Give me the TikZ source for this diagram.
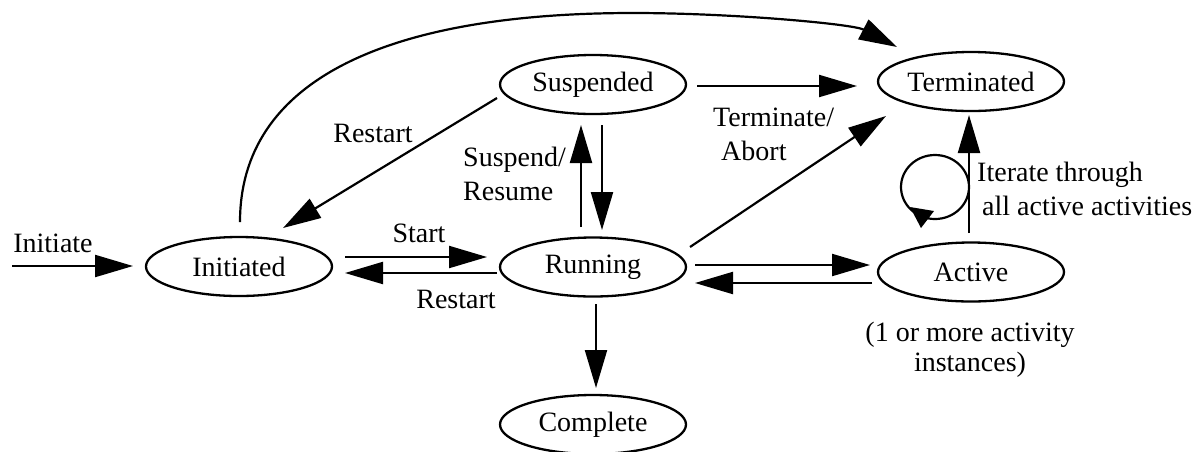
\documentclass[tikz,border=0pt]{standalone}
\usepackage{fontspec}
\setmainfont{Liberation Serif}
\usetikzlibrary{arrows.meta,shapes.geometric}
\begin{document}
\begin{tikzpicture}[x=1pt,y=-1pt,
  every node/.style={font=\fontsize{28}{34}\selectfont, inner sep=0pt},
  state/.style={ellipse, draw, line width=2.3pt, minimum width=186pt, minimum height=59pt},
  lbl/.style={anchor=base},
  arr/.style={line width=2.2pt, -{Triangle[length=38pt,width=22pt]}},
  plain/.style={line width=2.2pt},
  ]
\useasboundingbox (0,0) rectangle (1201,451);
% states
\node[state] (ini) at (239,266.5) {Initiated};
\node[state] (run) at (593,267) {Running};
\node[state] (sus) at (593,84.5) {Suspended};
\node[state] (com) at (593,424.5) {Complete};
\node[state] (ter) at (971,81.5) {Terminated};
\node[state] (act) at (971,272) {Active};
% free ends
\coordinate (initsrc) at (12,266);
\coordinate (apex) at (633,13);
\coordinate (loopc) at (935,187);
% connectors
\draw[arr] (initsrc) -- ([shift={(-106,-0.5)}]ini.center);
\draw[arr] ([shift={(106,-9.5)}]ini.center) -- ([shift={(-106,-10)}]run.center);
\draw[arr] ([shift={(-96,6)}]run.center) -- ([shift={(106,6.5)}]ini.center);
\draw[arr] ([shift={(-96,13.5)}]sus.center) -- ([shift={(44,-38.5)}]ini.center);
\draw[arr] ([shift={(-12,-40)}]run.center) -- ([shift={(-12,40.5)}]sus.center);
\draw[arr] ([shift={(9,40.5)}]sus.center) -- ([shift={(9,-37)}]run.center);
\draw[arr] ([shift={(3,37)}]run.center) -- ([shift={(3,-36.5)}]com.center);
\draw[arr] ([shift={(104,1.5)}]sus.center) -- ([shift={(-114,4.5)}]ter.center);
\draw[arr] ([shift={(97,-20)}]run.center) -- ([shift={(-85,34.5)}]ter.center);
\draw[arr] ([shift={(102,-2)}]run.center) -- ([shift={(-101,-7)}]act.center);
\draw[arr] ([shift={(-99,11)}]act.center) -- ([shift={(102,16)}]run.center);
\draw[arr] ([shift={(-2,-39)}]act.center) -- ([shift={(-2,33.5)}]ter.center);
\draw[arr] ([shift={(1,-44.5)}]ini.center) .. controls +(0,-140) and +(-250,0) .. (apex)
  .. controls +(100,0) and +(-44,-23) .. ([shift={(-74,-34.5)}]ter.center);
% self loop
\draw[plain] (loopc) ellipse [x radius=34pt, y radius=32pt];
\fill (910,207) -- (934,211) -- (921,228) -- cycle;
% labels
\node[lbl] (lInit) at (53,252) {Initiate};
\node[lbl] (lStart) at (419,242) {Start};
\node[lbl] (lRestartA) at (456,308) {Restart};
\node[lbl] (lRestartB) at (373,142.5) {Restart};
\node[anchor=base west, align=left] (lSusp) at (463,200) {Suspend/\\Resume};
\node[anchor=base west, align=left] (lTerm) at (713,160.5) {Terminate/\\\hspace*{8pt}Abort};
\node[anchor=base west, align=left] (lIter) at (977,215.5) {Iterate through\\\hspace*{5pt}all active activities};
\node[anchor=base, align=center, font=\fontsize{28}{30}\selectfont] (lInst) at (970,371.7) {(1 or more activity\\instances)};
\end{tikzpicture}
\end{document}
